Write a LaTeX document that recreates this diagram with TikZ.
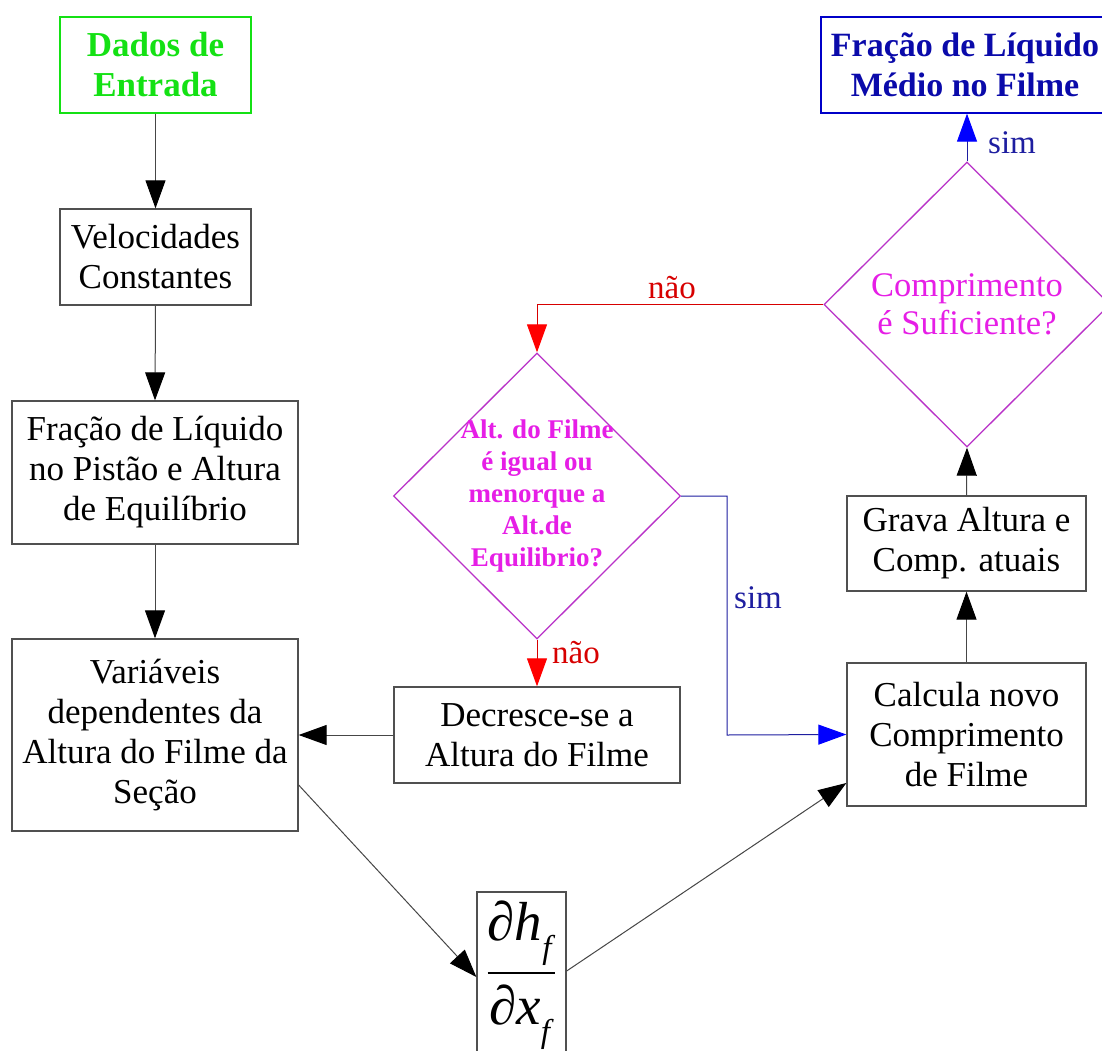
\documentclass[tikz,border=0pt]{standalone}
\usepackage{graphicx}
\usepackage{fontspec}
\setmainfont{Liberation Serif}
\usetikzlibrary{arrows.meta,shapes.geometric,calc}
\definecolor{boxgray}{RGB}{80,80,80}
\definecolor{linegray}{RGB}{70,70,70}
\definecolor{ingreen}{RGB}{20,225,20}
\definecolor{outblue}{RGB}{0,0,200}
\definecolor{outtext}{RGB}{10,10,170}
\definecolor{diamc}{RGB}{185,50,200}
\definecolor{diamtext}{RGB}{230,30,230}
\definecolor{nored}{RGB}{215,0,0}
\definecolor{simblue}{RGB}{30,30,160}
\begin{document}
\begin{tikzpicture}[x=1pt,y=-1pt,
  box/.style={draw=boxgray,line width=1.3pt,fill=white,align=center,inner sep=0pt,
    font=\fontsize{35}{40}\selectfont},
  diam/.style={diamond,draw=diamc,line width=1.3pt,inner sep=0pt,aspect=1},
  conn/.style={draw=linegray,line width=1pt,-{Triangle[length=28pt,width=20pt,color=black]}},
  redconn/.style={draw=nored,line width=1pt,-{Triangle[length=28pt,width=20pt,color=red]}},
  blueconn/.style={draw=simblue,line width=1pt,-{Triangle[length=28pt,width=20pt,color=blue]}},
  lab/.style={inner sep=0pt,font=\fontsize{33}{36}\selectfont}
]
\useasboundingbox (0,0) rectangle (1102,1051);
\clip (0,0) rectangle (1102,1051);
\fill[white] (0,0) rectangle (1102,1051);

% boxes
\node[box,draw=ingreen,text=ingreen,font=\fontsize{35}{40}\selectfont\bfseries,
  minimum width=191pt,minimum height=96pt] (dados) at (155.5,65) {Dados de\\Entrada};
\node[box,minimum width=191pt,minimum height=96pt] (velo) at (155.5,257) {Velocidades\\Constantes};
\node[box,minimum width=286pt,minimum height=143pt] (fracao) at (155,472.5)
  {Fração de Líquido\\no Pistão e Altura\\de Equilíbrio};
\node[box,minimum width=286pt,minimum height=192pt] (vari) at (155,735)
  {Variáveis\\dependentes da\\Altura do Filme da\\Seção};
\node[box,minimum width=286pt,minimum height=96pt] (decr) at (537,735)
  {Decresce-se a\\Altura do Filme};
\node[box,minimum width=239pt,minimum height=95pt] (grava) at (966.5,543.5)
  {Grava Altura e\\Comp. atuais};
\node[box,minimum width=239pt,minimum height=143pt] (calc) at (966.5,734.5)
  {Calcula novo\\Comprimento\\de Filme};
\node[box,draw=outblue,text=outtext,font=\fontsize{34}{40}\selectfont\bfseries,
  minimum width=288pt,minimum height=96pt] (saida) at (965,65)
  {Fração de Líquido\\Médio no Filme};
\node[box,minimum width=89pt,minimum height=166pt] (frac) at (521.5,975)
  {\scalebox{5.5}{\fontsize{10}{12}\selectfont$\displaystyle\frac{\hbox{∂\textit{h}\raisebox{-0.32em}{\fontsize{6}{6}\selectfont\textit{f}}}}{\hbox{∂\textit{x}\raisebox{-0.32em}{\fontsize{6}{6}\selectfont\textit{f}}}}$}};

% diamonds
\node[diam,minimum width=287pt,minimum height=286pt] (q1) at (537,496) {};
\node[align=center,text=diamtext,inner sep=0pt,font=\fontsize{27}{32}\selectfont\bfseries] (q1t) at (q1.center)
  {Alt. do Filme\\é igual ou\\menorque a\\Alt.de\\Equilibrio?};
\node[diam,minimum width=286pt,minimum height=285pt] (q2) at (967,304.5) {};
\node[align=center,text=diamtext,inner sep=0pt,font=\fontsize{34.5}{38}\selectfont] (q2t) at (q2.center)
  {Comprimento\\é Suficiente?};

% connectors
\draw[conn] (dados.south) -- (velo.north);
\draw[conn] (velo.south) -- (fracao.north);
\draw[conn] (fracao.south) -- (vari.north);
\draw[conn] (decr.west) -- (vari.east);
\draw[conn] (calc.north) -- (grava.south);
\draw[conn] (grava.north) -- (q2.south);
\draw[conn] ([yshift=-50pt]vari.east) -- ([yshift=-2pt]frac.west);
\draw[conn] ([yshift=4pt]frac.east) -- ([yshift=-48.5pt]calc.west);
\draw[redconn] (q1.south) -- (decr.north);
\draw[redconn] (q2.west) -| (q1.north);
\draw[blueconn] (q1.east) -- (727,496) -- (727,735) -- (calc.west);
\draw[blueconn] (q2.north) -- (q2.north |- saida.south);

% labels
\node[lab,text=nored] (nao1) at (576,653) {não};
\node[lab,text=nored] (nao2) at (672,288) {não};
\node[lab,text=simblue] (sim1) at (758,598) {sim};
\node[lab,text=simblue] (sim2) at (1012,143) {sim};
\end{tikzpicture}
\end{document}
